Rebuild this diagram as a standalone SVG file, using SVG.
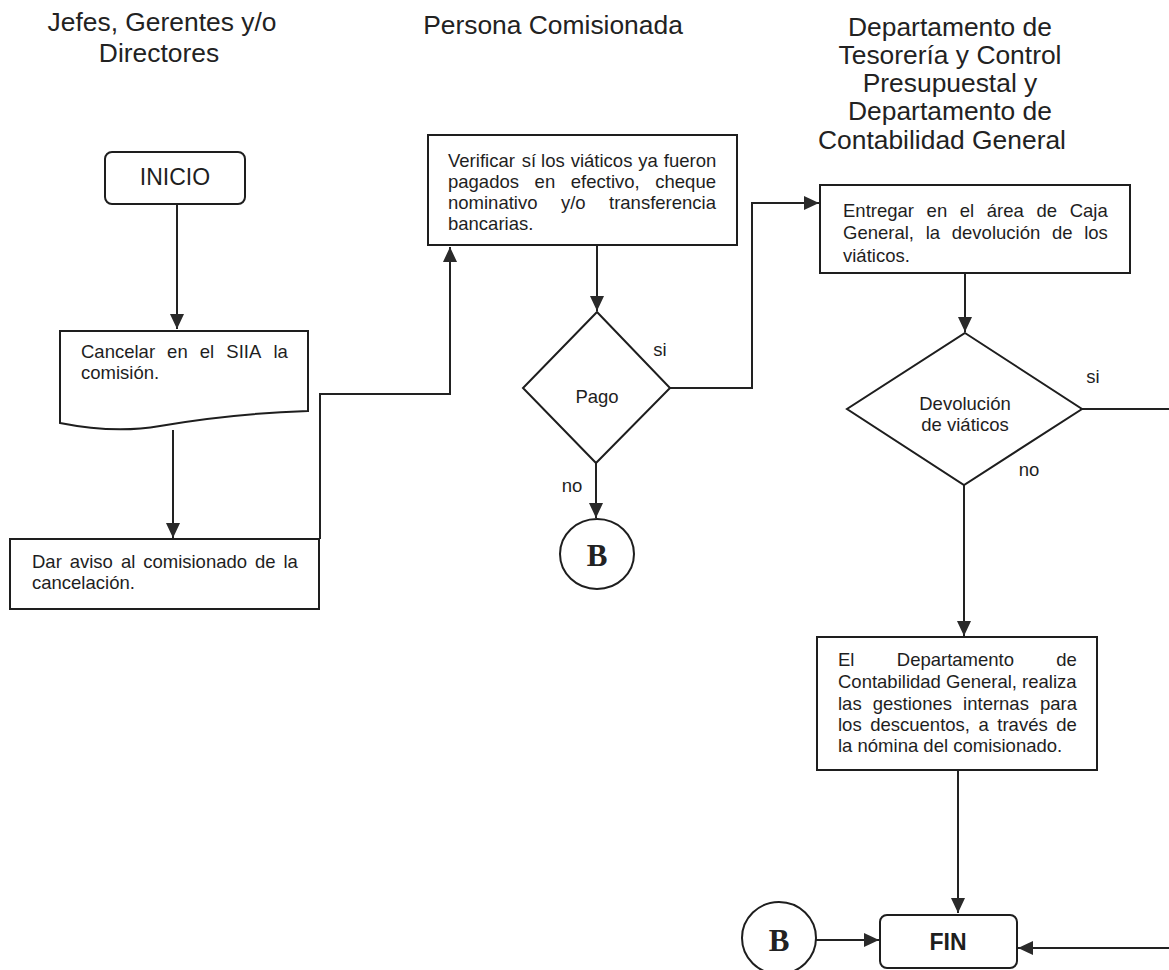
<svg xmlns="http://www.w3.org/2000/svg" width="1169" height="970" viewBox="0 0 1169 970">
<defs>
<marker id="arr" markerUnits="userSpaceOnUse" markerWidth="16" markerHeight="14" refX="15" refY="7" orient="auto">
<path d="M0,0 L15,7 L0,14 Z" fill="#2a2a2a"/>
</marker>
<style>
.hdr{font-family:"Liberation Sans",Arial,sans-serif;font-size:26.4px;fill:#222;text-anchor:middle}
.t{font-family:"Liberation Sans",Arial,sans-serif;font-size:18.5px;fill:#1e1e1e}
.c{text-anchor:middle}
.shape{fill:#fff;stroke:#1e1e1e;stroke-width:2}
.conn{fill:none;stroke:#222;stroke-width:2}
.b{font-family:"Liberation Serif","Times New Roman",serif;font-size:31px;font-weight:bold;fill:#222;text-anchor:middle}
</style>
</defs>
<rect width="1169" height="970" fill="#fff"/>

<g id="headers">
<text class="hdr" x="162" y="31" fill="#333">Jefes, Gerentes y/o</text>
<text class="hdr" x="159" y="62">Directores</text>
<text class="hdr" x="553" y="34">Persona Comisionada</text>
<text class="hdr" x="950" y="36">Departamento de</text>
<text class="hdr" x="950" y="64">Tesorería y Control</text>
<text class="hdr" x="950" y="92">Presupuestal y</text>
<text class="hdr" x="950" y="120">Departamento de</text>
<text class="hdr" x="942" y="149">Contabilidad General</text>
</g>

<g id="connectors">
<path class="conn" d="M177,204 V329" marker-end="url(#arr)"/>
<path class="conn" d="M173,430 V538" marker-end="url(#arr)"/>
<path class="conn" d="M320,539 V394 H450 V247" marker-end="url(#arr)"/>
<path class="conn" d="M597,245 V311" marker-end="url(#arr)"/>
<path class="conn" d="M670,388 H752 V203 H819" marker-end="url(#arr)"/>
<path class="conn" d="M596,463 V518" marker-end="url(#arr)"/>
<path class="conn" d="M965,273 V332" marker-end="url(#arr)"/>
<path class="conn" d="M1082,409 H1169"/>
<path class="conn" d="M964,485 V636" marker-end="url(#arr)"/>
<path class="conn" d="M958,770 V913" marker-end="url(#arr)"/>
<path class="conn" d="M816,940 H879" marker-end="url(#arr)"/>
<path class="conn" d="M1169,948 H1018" marker-end="url(#arr)"/>
</g>

<g id="inicio">
<rect class="shape" x="105" y="152" width="140" height="52" rx="7"/>
<text class="t c" x="175" y="185" style="font-size:23px">INICIO</text>
</g>

<g id="cancelar">
<path class="shape" d="M60,331 H308 V411 C250,413 200,419 160,426 C120,433 85,428 60,423 Z"/>
<text class="t" y="358"><tspan x="81">Cancelar</tspan> <tspan x="167.1">en</tspan> <tspan x="199.8">el</tspan> <tspan x="226.3">SIIA</tspan> <tspan x="273.4">la</tspan></text>
<text class="t" x="81" y="379">comisión.</text>
</g>

<g id="aviso">
<rect class="shape" x="10" y="539" width="309" height="70"/>
<text class="t" y="568"><tspan x="32">Dar</tspan> <tspan x="69.7">aviso</tspan> <tspan x="120.9">al</tspan> <tspan x="143.2">comisionado</tspan> <tspan x="255">de</tspan> <tspan x="283.5">la</tspan></text>
<text class="t" x="32" y="589">cancelación.</text>
</g>

<g id="verificar">
<rect class="shape" x="428" y="135" width="309" height="110"/>
<text class="t" y="167"><tspan x="448">Verificar</tspan> <tspan x="521.8">sí</tspan> <tspan x="541.1">los</tspan> <tspan x="570.7">viáticos</tspan> <tspan x="638.3">ya</tspan> <tspan x="663.8">fueron</tspan></text>
<text class="t" y="188"><tspan x="448">pagados</tspan> <tspan x="534.6">en</tspan> <tspan x="570.8">efectivo,</tspan> <tspan x="655.3">cheque</tspan></text>
<text class="t" y="209"><tspan x="448">nominativo</tspan> <tspan x="560.9">y/o</tspan> <tspan x="609">transferencia</tspan></text>
<text class="t" x="448" y="230">bancarias.</text>
</g>

<g id="pago">
<path class="shape" d="M597,312 L670,388 L596,463 L523,388 Z"/>
<text class="t c" x="597" y="403">Pago</text>
<text class="t c" x="660" y="356">si</text>
<text class="t c" x="572" y="492">no</text>
</g>

<g id="conectorB1">
<ellipse class="shape" cx="597" cy="554" rx="37" ry="35"/>
<text class="b" x="597" y="566">B</text>
</g>

<g id="entregar">
<rect class="shape" x="820" y="185" width="310" height="88"/>
<text class="t" y="217"><tspan x="843">Entregar</tspan> <tspan x="926.6">en</tspan> <tspan x="959.8">el</tspan> <tspan x="986.8">área</tspan> <tspan x="1036.5">de</tspan> <tspan x="1069.7">Caja</tspan></text>
<text class="t" y="239"><tspan x="843">General,</tspan> <tspan x="925.7">la</tspan> <tspan x="951.8">devolución</tspan> <tspan x="1051.9">de</tspan> <tspan x="1084.2">los</tspan></text>
<text class="t" x="843" y="262">viáticos.</text>
</g>

<g id="devolucion">
<path class="shape" d="M965,333 L1082,409 L964,485 L847,409 Z"/>
<text class="t c" x="965" y="410">Devolución</text>
<text class="t c" x="965" y="431">de viáticos</text>
<text class="t c" x="1093" y="383">si</text>
<text class="t c" x="1029" y="476">no</text>
</g>

<g id="contabilidad">
<rect class="shape" x="817" y="637" width="280" height="133"/>
<text class="t" y="666"><tspan x="838">El</tspan> <tspan x="896.8">Departamento</tspan> <tspan x="1056.3">de</tspan></text>
<text class="t" x="838" y="688">Contabilidad General, realiza</text>
<text class="t" y="710"><tspan x="838">las</tspan> <tspan x="872.8">gestiones</tspan> <tspan x="963.1">internas</tspan> <tspan x="1040">para</tspan></text>
<text class="t" y="731"><tspan x="838">los</tspan> <tspan x="870.2">descuentos,</tspan> <tspan x="978.5">a</tspan> <tspan x="997.3">través</tspan> <tspan x="1056.3">de</tspan></text>
<text class="t" x="838" y="752">la nómina del comisionado.</text>
</g>

<g id="conectorB2">
<ellipse class="shape" cx="779" cy="938" rx="37" ry="36"/>
<text class="b" x="779" y="951">B</text>
</g>

<g id="fin">
<rect class="shape" x="880" y="915" width="137" height="53" rx="7"/>
<text class="t c" x="948" y="950" style="font-size:23px;font-weight:bold">FIN</text>
</g>
</svg>
